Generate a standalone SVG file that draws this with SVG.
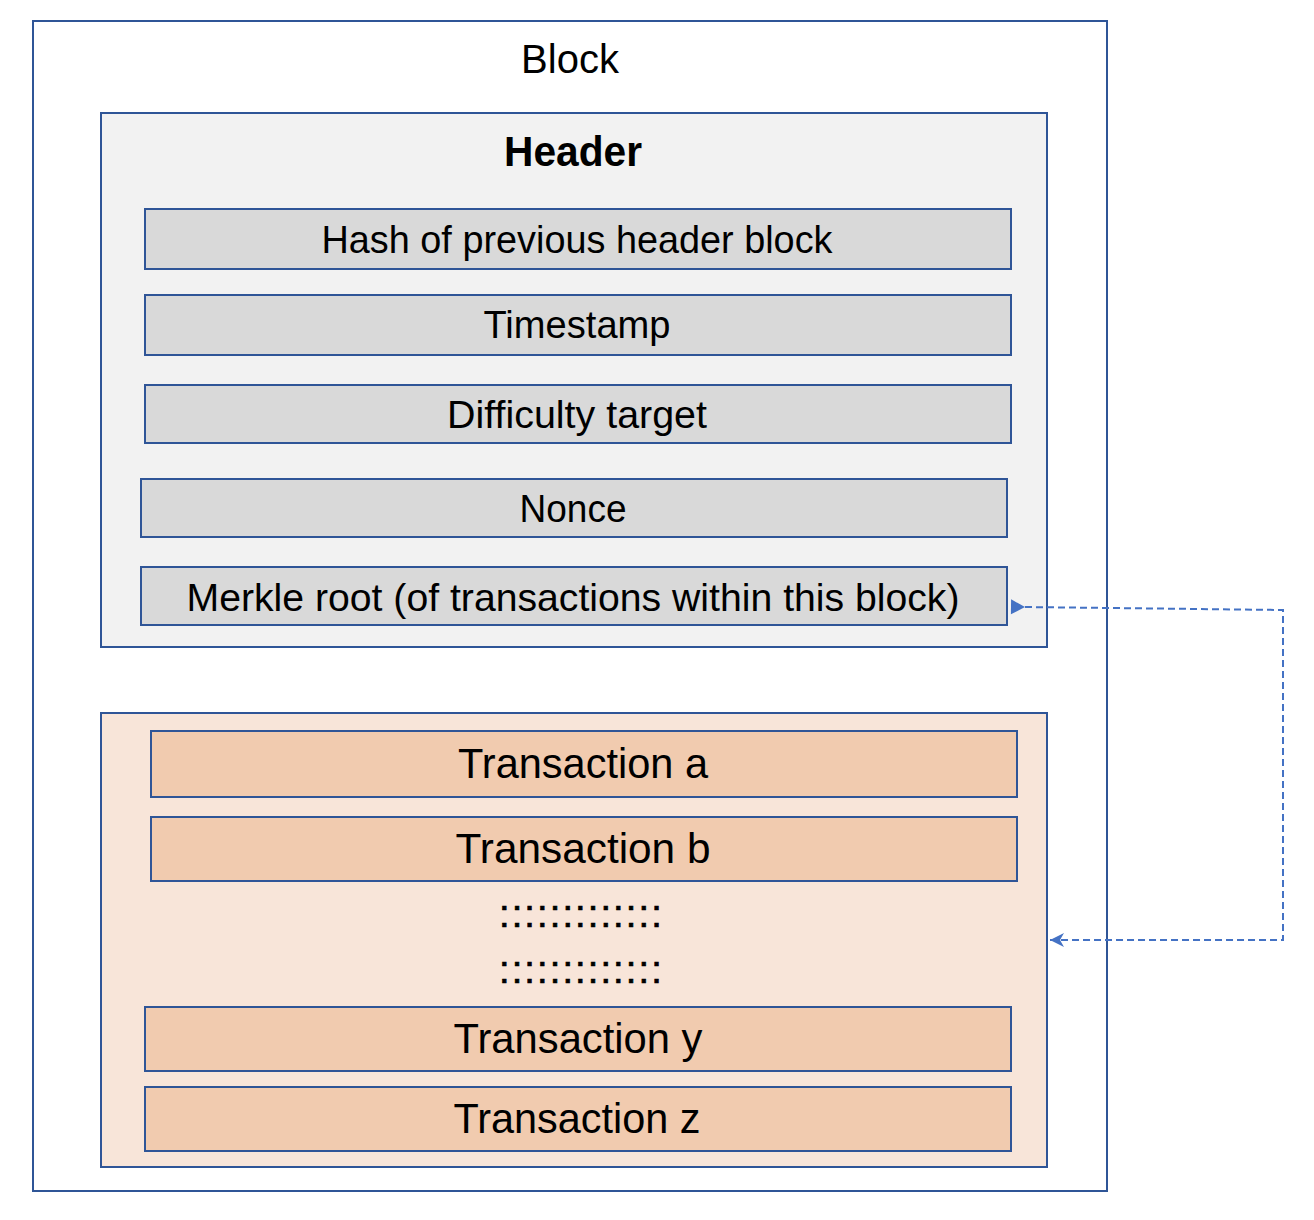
<svg xmlns="http://www.w3.org/2000/svg" width="1314" height="1220" viewBox="0 0 1314 1220">
<style>
  .frame { stroke: #2F5597; stroke-width: 2; }
  .t { font-family: "Liberation Sans", Arial, sans-serif; fill: #000; text-anchor: middle; }
  .f39 { font-size: 39px; }
  .f43 { font-size: 43px; }
  .hdr { fill: #F2F2F2; }
  .fld { fill: #D9D9D9; }
  .txa { fill: #F8E5D9; }
  .txb { fill: #F1CBAF; }
  .dots { font-family: "Liberation Sans", Arial, sans-serif; font-size: 38px; fill: #000; stroke: #000; stroke-width: 0.7; text-anchor: start; }
  .conn { fill: none; stroke: #4472C4; stroke-width: 2; stroke-dasharray: 7 4; }
</style>
<defs>
  <marker id="triStart" markerUnits="userSpaceOnUse" viewBox="-16 -10 20 20" refX="0" refY="0" markerWidth="20" markerHeight="20" orient="auto">
    <polygon points="-14,-7.5 0,0 -14,7.5" fill="#4472C4"/>
  </marker>
  <marker id="stealthEnd" markerUnits="userSpaceOnUse" viewBox="-16 -10 20 20" refX="0" refY="0" markerWidth="20" markerHeight="20" orient="auto">
    <polygon points="0,0 -14,-7 -10,0 -14,7" fill="#4472C4"/>
  </marker>
</defs>
<rect width="1314" height="1220" fill="#FFFFFF"/>

<g id="block">
  <rect class="frame" x="33" y="21" width="1074" height="1170" fill="#FFFFFF"/>
  <text class="t" x="570" y="73" font-size="40">Block</text>
</g>

<g id="header">
  <rect class="frame hdr" x="101" y="113" width="946" height="534"/>
  <text class="t" x="573" y="166" font-size="42" font-weight="bold" textLength="138" lengthAdjust="spacingAndGlyphs">Header</text>
</g>

<g id="hash-prev">
  <rect class="frame fld" x="145" y="209" width="866" height="60"/>
  <text class="t f39" x="577" y="253" textLength="511" lengthAdjust="spacingAndGlyphs">Hash of previous header block</text>
</g>

<g id="timestamp">
  <rect class="frame fld" x="145" y="295" width="866" height="60"/>
  <text class="t f39" x="577" y="338" textLength="187" lengthAdjust="spacingAndGlyphs">Timestamp</text>
</g>

<g id="difficulty">
  <rect class="frame fld" x="145" y="385" width="866" height="58"/>
  <text class="t f39" x="577" y="428" textLength="260" lengthAdjust="spacingAndGlyphs">Difficulty target</text>
</g>

<g id="nonce">
  <rect class="frame fld" x="141" y="479" width="866" height="58"/>
  <text class="t f39" x="573" y="522" textLength="107" lengthAdjust="spacingAndGlyphs">Nonce</text>
</g>

<g id="merkle-root">
  <rect class="frame fld" x="141" y="567" width="866" height="58"/>
  <text class="t f39" x="573" y="611" textLength="773" lengthAdjust="spacingAndGlyphs">Merkle root (of transactions within this block)</text>
</g>

<g id="transactions">
  <rect class="frame txa" x="101" y="713" width="946" height="454"/>
  <text class="dots" x="499" y="927" letter-spacing="2.12">:::::::::::::</text>
  <text class="dots" x="499" y="983" letter-spacing="2.12">:::::::::::::</text>
</g>

<g id="tx-a">
  <rect class="frame txb" x="151" y="731" width="866" height="66"/>
  <text class="t f43" x="583" y="778" textLength="250" lengthAdjust="spacingAndGlyphs">Transaction a</text>
</g>

<g id="tx-b">
  <rect class="frame txb" x="151" y="817" width="866" height="64"/>
  <text class="t f43" x="583" y="863" textLength="255" lengthAdjust="spacingAndGlyphs">Transaction b</text>
</g>

<g id="tx-y">
  <rect class="frame txb" x="145" y="1007" width="866" height="64"/>
  <text class="t f43" x="578" y="1053" textLength="249" lengthAdjust="spacingAndGlyphs">Transaction y</text>
</g>

<g id="tx-z">
  <rect class="frame txb" x="145" y="1087" width="866" height="64"/>
  <text class="t f43" x="577" y="1133" textLength="247" lengthAdjust="spacingAndGlyphs">Transaction z</text>
</g>

<g id="connectors">
  <path class="conn" d="M1025,607 L1283,610 L1283,940 L1050,940" marker-start="url(#triStart)" marker-end="url(#stealthEnd)"/>
</g>
</svg>
